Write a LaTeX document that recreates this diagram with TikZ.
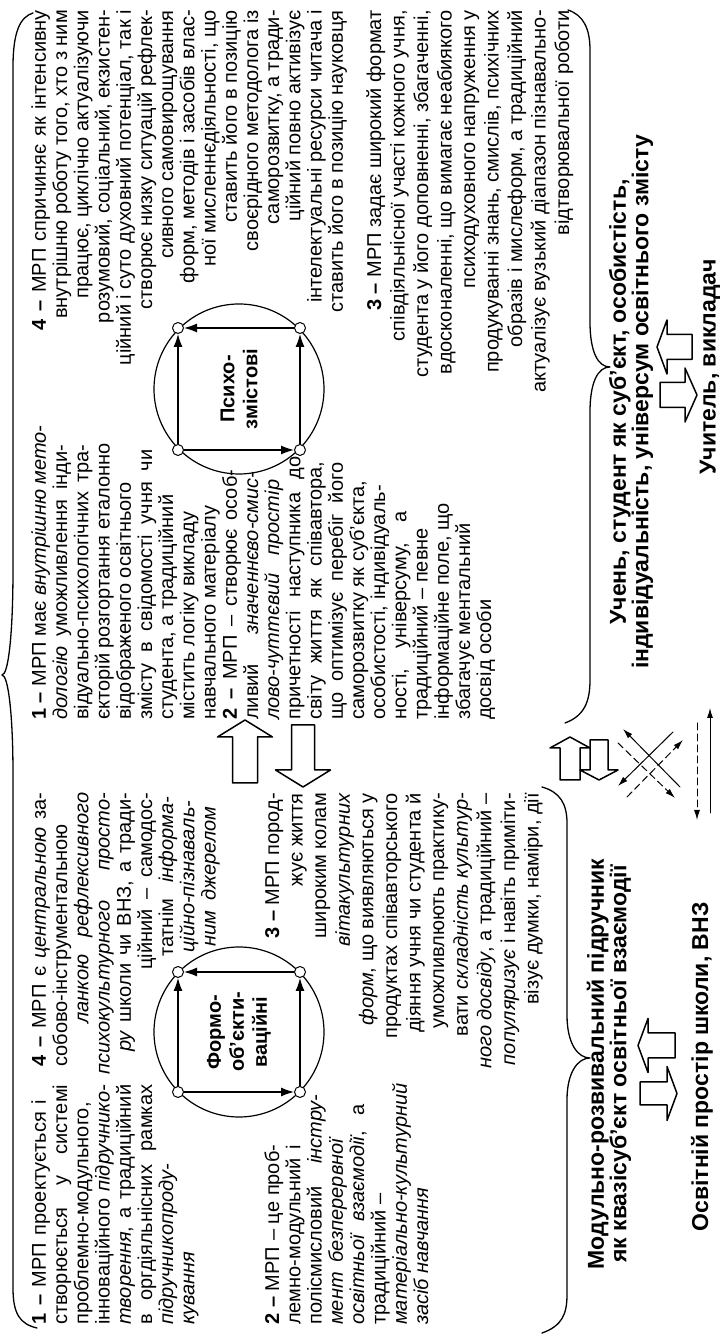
\documentclass[tikz,border=0pt]{standalone}
\usepackage{fontspec}
\setmainfont{Liberation Sans}
\usetikzlibrary{arrows.meta}

% hollow block arrow: along the long side (x) and along the short side (y)
% #1 tail, #2 head base, #3 tip, #4 axis, #5 half stem, #6 half head
\newcommand{\blockx}[6]{%
  \draw[hollow] (#1,#4-#5) -- (#2,#4-#5) -- (#2,#4-#6) -- (#3,#4)
    -- (#2,#4+#6) -- (#2,#4+#5) -- (#1,#4+#5) -- cycle;}
\newcommand{\blocky}[6]{%
  \draw[hollow] (#4-#5,#1) -- (#4-#5,#2) -- (#4-#6,#2) -- (#4,#3)
    -- (#4+#6,#2) -- (#4+#5,#2) -- (#4+#5,#1) -- cycle;}

% justified line of given width, never narrower than the text itself
\newsavebox\linebox
\newcommand{\jline}[2]{\sbox\linebox{#2}%
  \ifdim\wd\linebox>#1\usebox\linebox\else\makebox[#1][s]{#2}\fi}

\begin{document}
\begin{tikzpicture}[
    x=1pt, y=1pt,
    rotate=90, transform shape,
    line cap=round,
    line join=round,
    txt/.style={font=\fontsize{20}{21}\selectfont, inner sep=0pt, anchor=base west},
    rtxt/.style={txt, anchor=base east},
    lbl/.style={font=\fontsize{23}{21}\selectfont\bfseries, inner sep=0pt, align=center},
    disc/.style={circle, draw, line width=1.2pt, minimum size=170pt, inner sep=0pt,
                 align=center, font=\fontsize{20}{23}\selectfont\bfseries},
    ring/.style={circle, draw, line width=1pt, fill=white, minimum size=11pt, inner sep=0pt,
                 path picture={\fill (path picture bounding box.center) circle (2.3pt);}},
    brace/.style={line width=1.3pt},
    sq/.style={line width=1.2pt, -{Latex[length=13pt,width=9pt]}},
    hollow/.style={draw, line width=1.5pt, fill=white},
    thin/.style={line width=1pt, -{Latex[length=10pt,width=6pt]}},
    thindash/.style={thin, dash pattern=on 7pt off 4pt}
]
\useasboundingbox (0,0) rectangle (1342,-720);

% -------------------------------------------------
% Фігурні дужки
% -------------------------------------------------

\draw[brace] (14,-37) .. controls (18,-20) and (28,-13) .. (54,-13) -- (567,-13)
  .. controls (630,-13) and (667,-8) .. (667,-2)
  .. controls (667,-8) and (704,-13) .. (774,-13) -- (1275,-13)
  .. controls (1310,-13) and (1325,-20) .. (1329,-33);

\draw[brace] (9,-542) .. controls (16,-562) and (28,-567) .. (47,-567) -- (242,-567)
  .. controls (270,-567) and (284,-578) .. (284,-590)
  .. controls (284,-578) and (298,-567) .. (327,-567) -- (519,-567)
  .. controls (538,-567) and (550,-560) .. (555,-542);

\draw[brace] (619,-565) .. controls (626,-584) and (640,-590) .. (662,-590) -- (930,-590)
  .. controls (960,-590) and (975,-598) .. (975,-610)
  .. controls (975,-598) and (990,-590) .. (1020,-590) -- (1292,-590)
  .. controls (1314,-590) and (1327,-583) .. (1332,-568);

% -------------------------------------------------
% Кола з квадратами
% -------------------------------------------------

\node[disc] (formo) at (310,-239) {Формо-\\об’єкти-\\ваційні};
\node[disc] (psycho) at (953,-239) {Психо-\\змістові};

\node[ring] (f1) at (250,-178) {};
\node[ring] (f2) at (370,-178) {};
\node[ring] (f3) at (250,-300) {};
\node[ring] (f4) at (370,-300) {};
\draw[sq] (f1) -- (f2);
\draw[sq] (f1) -- (f3);
\draw[sq] (f3) -- (f4);
\draw[sq] (f4) -- (f2);

\node[ring] (p1) at (892,-178) {};
\node[ring] (p2) at (1014,-178) {};
\node[ring] (p3) at (892,-300) {};
\node[ring] (p4) at (1014,-300) {};
\draw[sq] (p1) -- (p2);
\draw[sq] (p1) -- (p3);
\draw[sq] (p3) -- (p4);
\draw[sq] (p4) -- (p2);

% -------------------------------------------------
% Тексти: ліва частина
% -------------------------------------------------

\foreach \a/\b/\t [count=\i] in {
  17/242/{\textbf{1 –} МРП проектується і},
  17/257/{створюється у системі},
  17/257/{проблемно-модульного,},
  17/257/{інноваційного \textit{підручнико-}},
  17/257/{\textit{творення}, а традиційний},
  17/257/{в оргдіяльнісних рамках},
  17/257/{\textit{підручникопроду-}\hfill},
  17/257/{\textit{кування}\hfill}}
{\pgfmathsetmacro\w{\b-\a}
 \node[txt] (a\i) at (\a,{-46-21.2*(\i-1)}) {\jline{\w pt}{\t}};}

\foreach \a/\b/\t [count=\i] in {
  275/549/{\textbf{4 –} МРП є \textit{центральною} за-},
  275/549/{собово-інструментальною},
  318/549/{\textit{ланкою рефлексивного}},
  267/549/{\textit{психокультурного просто-}},
  290/549/{\textit{ру} школи чи ВНЗ, а тради-},
  372/549/{ційний – самодос-},
  385/545/{татнім \textit{інформа-}},
  389/545/{\textit{ційно-пізнаваль-}},
  395/535/{\textit{ним джерелом}}}
{\pgfmathsetmacro\w{\b-\a}
 \node[txt] (b\i) at (\a,{-46-21.2*(\i-1)}) {\jline{\w pt}{\t}};}

\foreach \a/\b/\t [count=\i] in {
  17/197/{\textbf{2 –} МРП – це проб-},
  17/197/{лемно-модульний і},
  17/247/{полісмисловий \textit{інстру-}},
  17/205/{\textit{мент безперервної}},
  17/237/{\textit{освітньої взаємодії}, а},
  17/180/{традиційний –\hfill},
  17/250/{\textit{матеріально-культурний}\hfill},
  17/137/{\textit{засіб навчання}\hfill}}
{\pgfmathsetmacro\w{\b-\a}
 \node[txt] (c\i) at (\a,{-279-21.3*(\i-1)}) {\jline{\w pt}{\t}};}

\foreach \t [count=\i] in {
  {\textbf{3 –} МРП пород-},
  {жує життя},
  {широким колам},
  {\textit{вітакультурних}},
  {\textit{форм}, що виявляються у},
  {продуктах співавторського},
  {діяння учня чи студента й},
  {уможливлюють практику-},
  {вати \textit{складність культур-}},
  {\textit{ного досвіду}, а традиційний –},
  {\textit{популяризує} і навіть приміти-},
  {візує думки, наміри, дії}}
{\node[rtxt] (d\i) at (549,{-279-23.6*(\i-1)}) {\t};}

% -------------------------------------------------
% Тексти: права частина
% -------------------------------------------------

\foreach \a/\b/\t [count=\i] in {
  622/897/{\textbf{1 –} МРП має \textit{внутрішню мето-}},
  622/897/{\textit{дологію} уможливлення інди-},
  622/897/{відуально-психологічних тра-},
  622/897/{єкторій розгортання еталонно},
  622/622/{відображеного освітнього},
  622/892/{змісту в свідомості учня чи},
  622/622/{студента, а традиційний},
  622/622/{містить логіку викладу},
  622/622/{навчального матеріалу},
  622/872/{\textbf{2 –} МРП – створює особ-},
  622/870/{ливий \textit{значеннєво-смис-}},
  622/862/{\textit{лово-чуттєвий простір}},
  622/885/{причетності наступника до},
  622/880/{світу життя як співавтора,},
  622/879/{що оптимізує перебіг його},
  622/622/{саморозвитку як суб’єкта,},
  622/622/{особистості, індивідуаль-},
  622/830/{ності, універсуму, а},
  622/622/{традиційний – певне},
  622/622/{інформаційне поле, що},
  622/622/{збагачує ментальний},
  622/622/{досвід особи}}
{\pgfmathsetmacro\w{\b-\a}
 \node[txt] (e\i) at (\a,{-46-21.2*(\i-1)}) {\jline{\w pt}{\t}};}

\foreach \a/\t [count=\i] in {
  1012/{\textbf{4 –} МРП спричиняє як інтенсивну},
  1332/{внутрішню роботу того, хто з ним},
  1332/{працює, циклічно актуалізуючи},
  1332/{розумовий, соціальний, екзистен-},
  1332/{ційний і суто духовний потенціал, так і},
  1332/{створює низку ситуацій рефлек-},
  1332/{сивного самовирощування},
  1332/{форм, методів і засобів влас-},
  1332/{ної мисленнєдіяльності, що},
  1332/{ставить його в позицію},
  1332/{своєрідного методолога із},
  1332/{саморозвитку, а тради-},
  1332/{ційний повно активізує},
  1332/{інтелектуальні ресурси читача і},
  1332/{ставить його в позицію науковця}}
{\pgfmathsetmacro\w{1332-\a}
 \node[rtxt] (f\i) at (1332,{-46-21.2*(\i-1)}) {\jline{\w pt}{\t}};}

\foreach \t [count=\i] in {
  {\textbf{3 –} МРП задає широкий формат},
  {співдіяльнісної участі кожного учня,},
  {студента у його доповненні, збагаченні,},
  {вдосконаленні, що вимагає неабиякого},
  {психодуховного напруження у},
  {продукуванні знань, смислів, психічних},
  {образів і мислеформ, а традиційний},
  {актуалізує вузький діапазон пізнавально-},
  {відтворювальної роботи}}
{\node[rtxt] (h\i) at (1332,{-381-23.5*(\i-1)}) {\t};}

% -------------------------------------------------
% Контурні стрілки
% -------------------------------------------------

\blockx{559}{605}{622}{-245}{12.5}{27.5}
\blockx{617}{572}{555}{-303}{11.5}{27.5}
\blockx{562}{594}{605}{-570}{10}{20}
\blockx{602}{572}{562}{-599}{9}{19}
\blocky{-675}{-648}{-638}{296.5}{12.5}{27}
\blocky{-640}{-667}{-677}{248.5}{11.5}{27}
\blocky{-692}{-667}{-657}{995}{12.5}{27}
\blocky{-660}{-685}{-697}{947}{12.5}{27}

% -------------------------------------------------
% Хрест і довгі стрілки
% -------------------------------------------------

\draw[thin] (555,-680) -- (613,-623);
\draw[thin] (610,-673) -- (556,-618);
\draw[thindash] (599,-618) -- (544,-675);
\draw[thindash] (545,-627) -- (602,-683);
\draw[thindash] (619,-697) -- (522,-697);
\draw[thin] (529,-710) -- (634,-710);

% -------------------------------------------------
% Підписи
% -------------------------------------------------

\node[lbl] (book) at (278,-609) {Модульно-розвивальний підручник\\як квазісуб’єкт освітньої взаємодії};
\node[lbl] (space) at (275,-702) {Освітній простір школи, ВНЗ};
\node[lbl] (pupil) at (940,-631) {Учень, студент як суб’єкт, особистість,\\індивідуальність, універсум освітнього змісту};
\node[lbl] (teacher) at (975,-710) {Учитель, викладач};
\end{tikzpicture}
\end{document}
